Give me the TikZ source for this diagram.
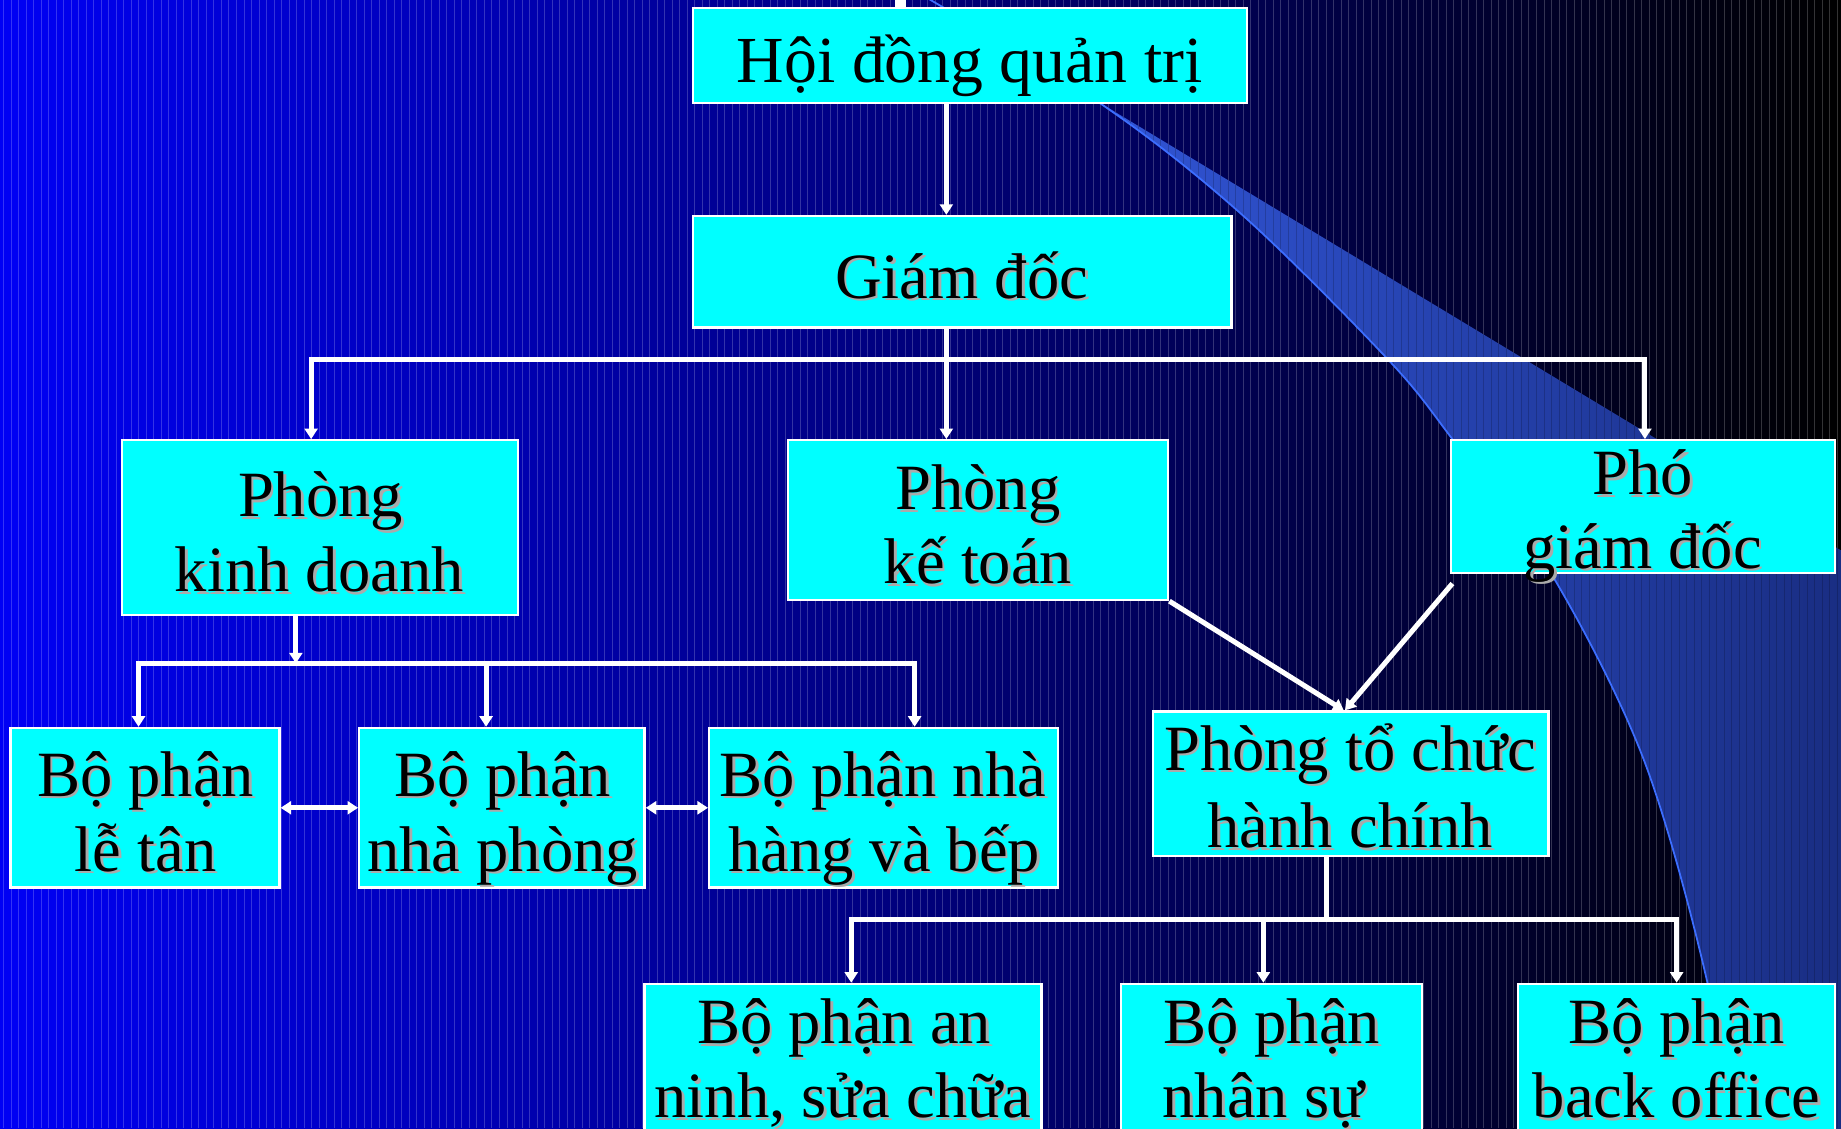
\documentclass[tikz,border=0pt]{standalone}
\usepackage{fontspec}
\setmainfont{Liberation Serif}
\usetikzlibrary{arrows.meta,calc}

\definecolor{bgblue}{RGB}{0,0,245}
\definecolor{boxcyan}{RGB}{0,255,255}
\definecolor{shadowgray}{RGB}{170,170,170}
\definecolor{curtainL}{RGB}{55,95,235}
\definecolor{curtainR}{RGB}{25,45,130}
\definecolor{curtainEdge}{RGB}{60,110,255}

\tikzset{
  orgbox/.style={draw=white, line width=2pt, fill=boxcyan, inner sep=0pt},
  wline/.style={draw=white, line width=4.3pt},
  arr/.style={wline, -{Triangle[length=9pt,width=11pt]}},
  darr/.style={wline, {Triangle[length=9pt,width=11pt]}-{Triangle[length=9pt,width=11pt]}},
  txt/.style={font=\fontsize{55}{63}\selectfont, inner sep=0pt, anchor=base, text=black},
  shd/.style={txt, text=shadowgray},
  stripe/.style={draw=white, opacity=0.2, line width=0.8pt},
  darkstripe/.style={draw=black, opacity=0.18, line width=0.8pt},
}

% text line with a soft grey drop shadow: name, x, y (baseline), text
\newcommand\shlabel[4]{%
  \node[shd] (#1s) at ({#2+2.3},{#3+2.3}) {#4};
  \node[txt] (#1) at (#2,#3) {#4};
}

\begin{document}
\begin{tikzpicture}[x=1pt,y=-1pt]
\useasboundingbox (0,0) rectangle (1568,961);
\clip (0,0) rectangle (1568,961);

% background: blue to black, with fine vertical banding
\shade[left color=bgblue, right color=black] (0,0) rectangle (1568,961);
\foreach \i in {0,...,245} \draw[stripe] ({\i*6.4+3},0) -- ({\i*6.4+3},961);

% decorative curtain sweeping down the right side
\shade[left color=curtainL, right color=curtainR]
  plot[smooth,tension=0.55] coordinates {(772,-12) (937,88) (1058,183) (1182,306) (1237,374) (1322,490) (1400,647) (1454,836) (1475,975)}
  -- (1575,975) -- (1575,473) -- cycle;
\begin{scope}
  \clip plot[smooth,tension=0.55] coordinates {(772,-12) (937,88) (1058,183) (1182,306) (1237,374) (1322,490) (1400,647) (1454,836) (1475,975)}
    -- (1575,975) -- (1575,473) -- cycle;
  \foreach \i in {120,...,245} \draw[darkstripe] ({\i*6.4+3},0) -- ({\i*6.4+3},961);
\end{scope}
\draw[curtainEdge, line width=1.5pt]
  plot[smooth,tension=0.55] coordinates {(772,-12) (937,88) (1058,183) (1182,306) (1237,374) (1322,490) (1400,647) (1454,836) (1475,975)};

% boxes
\node[orgbox, minimum width=472pt, minimum height=81pt]  (hdqt) at (826,47.5) {};
\node[orgbox, minimum width=459pt, minimum height=95pt]  (gd)   at (819.5,231.5) {};
\node[orgbox, minimum width=337pt, minimum height=149pt] (pkd)  at (272.5,449.5) {};
\node[orgbox, minimum width=324pt, minimum height=136pt] (pkt)  at (833,443) {};
\node[orgbox, minimum width=327pt, minimum height=113pt] (pgd)  at (1399.5,431.5) {};
\node[orgbox, minimum width=229pt, minimum height=136pt] (letan)    at (123.5,688) {};
\node[orgbox, minimum width=243pt, minimum height=136pt] (nhaphong) at (427.5,688) {};
\node[orgbox, minimum width=297pt, minimum height=136pt] (nhahang)  at (752.5,688) {};
\node[orgbox, minimum width=337pt, minimum height=123pt] (ptc)  at (1150.5,667.5) {};
\node[orgbox, minimum width=338pt, minimum height=150pt] (anninh)     at (718,913) {};
\node[orgbox, minimum width=256pt, minimum height=150pt] (nhansu)     at (1083,913) {};
\node[orgbox, minimum width=270pt, minimum height=150pt] (backoffice) at (1428,913) {};

% connector anchors
\coordinate (stubTop) at (767,-2);
\coordinate (trunk) at (806,0);
\coordinate (busA) at (806,306);
\coordinate (pkdIn) at (265,0);
\coordinate (pgdIn) at (1401,0);
\coordinate (busB) at (252,565);
\coordinate (busBl) at (118,565);
\coordinate (busBm) at (414,565);
\coordinate (busBr) at (779,565);
\coordinate (busC) at (1130,783);
\coordinate (cL) at (725,0);
\coordinate (cM) at (1076,0);
\coordinate (cR) at (1428,0);

% connectors
\draw[white, line width=10pt] (stubTop) -- (hdqt.north -| stubTop);
\draw[arr] (hdqt.south -| trunk) -- (gd.north -| trunk);
\draw[arr] (gd.south -| trunk) -- (pkt.north -| trunk);
\draw[arr] (busA) -| (pkd.north -| pkdIn);
\draw[arr] (busA) -| (pgd.north -| pgdIn);

\draw[arr] (pkd.south -| busB) -- (busB);
\draw[arr] (busBm) -| (letan.north -| busBl);
\draw[arr] (busBm) -| (nhahang.north -| busBr);
\draw[arr] (busBm) -- (nhaphong.north -| busBm);
\draw[darr] (letan.east) -- (nhaphong.west);
\draw[darr] (nhaphong.east) -- (nhahang.west);

\draw[arr] (pkt.south east) -- ($(ptc.north)+(-6,0)$);
\draw[arr] ($(pgd.south west)+(2,8)$) -- ($(ptc.north)+(-5,0)$);

\draw[wline] (ptc.south -| busC) -- (busC);
\draw[arr] (busC) -| (anninh.north -| cL);
\draw[arr] (busC) -| (backoffice.north -| cR);
\draw[arr] (busC -| cM) -- (nhansu.north -| cM);

% labels
\node[txt, font=\fontsize{56}{63}\selectfont] (hdqtT) at (826,70) {Hội đồng quản trị};
\shlabel{gdT}{819}{254}{Giám đốc}
\shlabel{pkdA}{273}{440}{Phòng}
\shlabel{pkdB}{272}{504}{kinh doanh}
\shlabel{pktA}{833}{434}{Phòng}
\shlabel{pktB}{833}{497}{kế toán}
\shlabel{pgdA}{1399}{421}{Phó}
\shlabel{pgdB}{1399}{484}{giám đốc}
\shlabel{letanA}{124}{678}{Bộ phận}
\shlabel{letanB}{124}{742}{lễ tân}
\shlabel{nhaphongA}{428}{678}{Bộ phận}
\shlabel{nhaphongB}{428}{742}{nhà phòng}
\shlabel{nhahangA}{752}{678}{Bộ phận nhà}
\shlabel{nhahangB}{753}{742}{hàng và bếp}
\shlabel{ptcA}{1150}{656}{Phòng tổ chức}
\shlabel{ptcB}{1150}{722}{hành chính}
\shlabel{anninhA}{719}{889}{Bộ phận an}
\shlabel{anninhB}{718}{952}{ninh, sửa chữa}
\shlabel{nhansuA}{1083}{889}{Bộ phận}
\shlabel{nhansuB}{1076}{952}{nhân sự}
\shlabel{backofficeA}{1428}{889}{Bộ phận}
\shlabel{backofficeB}{1428}{952}{back office}
\end{tikzpicture}
\end{document}
